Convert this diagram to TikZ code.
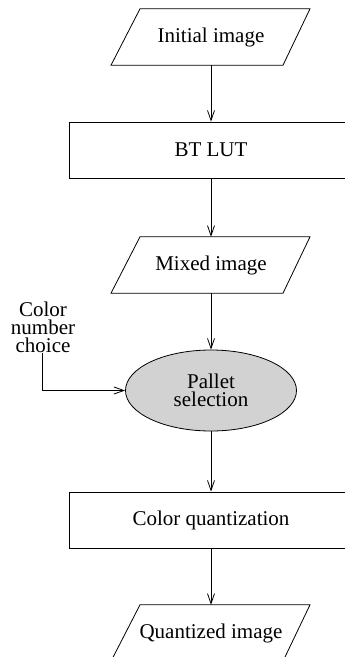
\documentclass[tikz,border=0pt]{standalone}
\usepackage{fontspec}
\setmainfont{Liberation Serif}
\newfontfamily\timesf{Liberation Serif}
\usetikzlibrary{arrows.meta,shapes.geometric}
\newcommand\ioshape[1]{\draw[outline] ([xshift=-100pt]#1.south) -- ([xshift=72pt]#1.south) -- ([xshift=99pt]#1.north) -- ([xshift=-71pt]#1.north) -- cycle;}
\begin{document}
\begin{tikzpicture}[x=1pt,y=-1pt,
  every node/.style={font=\timesf\fontsize{21}{18}\selectfont, inner sep=0pt},
  iobox/.style={minimum width=140pt, minimum height=56pt},
  procbox/.style={draw, line width=0.8pt, rectangle, minimum width=284pt, minimum height=56pt},
  decision/.style={draw, line width=0.8pt, ellipse, fill=gray!35, minimum width=171pt, minimum height=81pt, align=center},
  plain/.style={align=center},
  conn/.style={line width=0.8pt, -{Straight Barb[length=10pt,width=7pt]}},
  outline/.style={line width=0.8pt}]
\useasboundingbox (0,0) rectangle (345,657);
\clip (0,0) rectangle (345,657);
\fill[white] (0,0) rectangle (345,657);

\node[iobox] (init) at (211,37) {Initial image};
\ioshape{init}
\node[procbox] (lut) at (211,150) {BT LUT};
\node[iobox] (mixed) at (211,265) {Mixed image};
\ioshape{mixed}
\node[decision] (pal) at (211,390.5) {Pallet\\selection};
\node[plain] (cnc) at (43,327) {Color\\number\\choice};
\node[procbox] (quant) at (211,520) {Color quantization};
\node[iobox] (qimg) at (211,633) {Quantized image};
\ioshape{qimg}

\draw[conn] (init.south) -- (lut.north);
\draw[conn] (lut.south) -- (mixed.north);
\draw[conn] (mixed.south) -- (pal.north);
\draw[conn] ([xshift=-1pt]cnc.south) |- (pal.west);
\draw[conn] (pal.south) -- (quant.north);
\draw[conn] (quant.south) -- (qimg.north);
\end{tikzpicture}
\end{document}
